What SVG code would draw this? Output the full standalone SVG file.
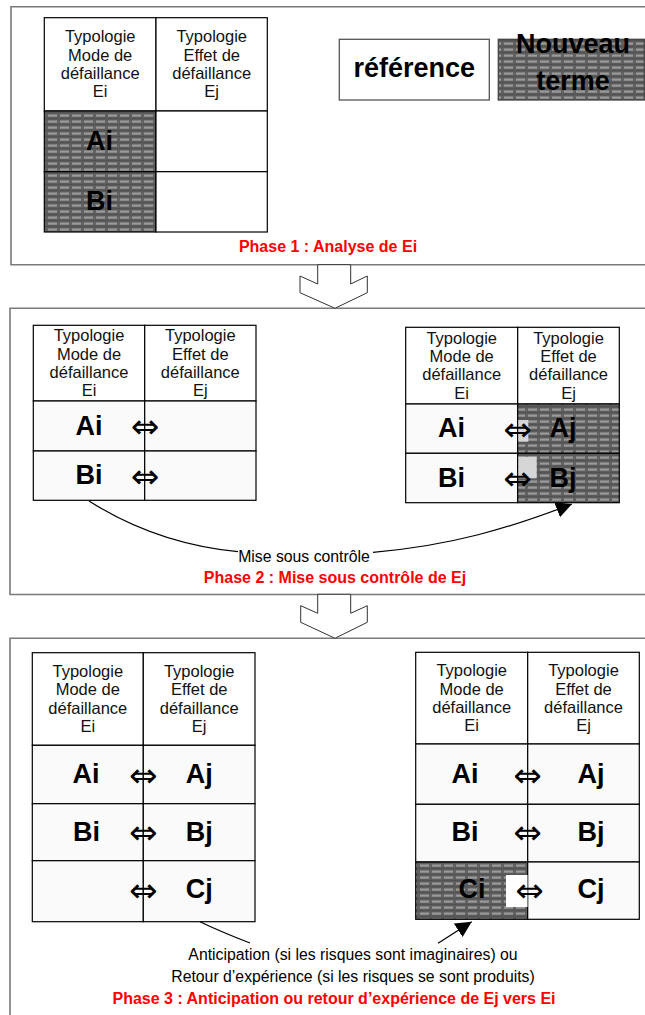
<svg xmlns="http://www.w3.org/2000/svg" width="645" height="1015" viewBox="0 0 645 1015">
<style>
.frame{fill:none;stroke:#7a7a7a;stroke-width:1.6}
.cell{stroke:#000;stroke-width:1.2}
.w{fill:#fff}
.o{fill:#fafafa}
.h{fill:url(#hatch)}
.hd{font-family:"Liberation Sans",Arial,sans-serif;font-size:16.5px;fill:#111;text-anchor:middle}
.big{font-family:"Liberation Sans",Arial,sans-serif;font-size:27px;font-weight:bold;fill:#000;text-anchor:middle}
.arr{font-family:"DejaVu Sans",sans-serif;font-size:34px;fill:#000;text-anchor:middle}
.red{font-family:"Liberation Sans",Arial,sans-serif;font-size:16px;font-weight:bold;fill:#ff0000;text-anchor:middle}
.txt{font-family:"Liberation Sans",Arial,sans-serif;font-size:15.8px;fill:#000;text-anchor:middle}
.blk{fill:#fff;stroke:#333;stroke-width:1}
.con{fill:none;stroke:#000;stroke-width:1.2}
</style>
<defs>
<pattern id="hatch" patternUnits="userSpaceOnUse" width="12" height="6">
<rect width="12" height="6" fill="#626262"/>
<rect x="0" y="0.5" width="9" height="2.2" fill="#9a9a9a"/>
<rect x="0" y="3.5" width="12" height="2" fill="#545454"/>
</pattern>
<marker id="ah" viewBox="0 0 10 10" refX="10" refY="5" markerWidth="16" markerHeight="16" markerUnits="userSpaceOnUse" orient="auto">
<path d="M0,0 L10,5 L0,10 z" fill="#000"/>
</marker>
</defs>

<g id="frame1"><path class="frame" d="M650,6.7 H11 V264.7 H650"/></g>
<g id="frame2"><path class="frame" d="M650,308.3 H10 V594.5 H650"/></g>
<g id="frame3"><path class="frame" d="M650,638.3 H10 V1020"/></g>

<g id="table1">
<rect class="cell w" x="44.3" y="17.7" width="111.7" height="93.3"/>
<rect class="cell w" x="156" y="17.7" width="111.3" height="93.3"/>
<rect class="cell h" x="44.3" y="111" width="111.7" height="60.7"/>
<rect class="cell w" x="156" y="111" width="111.3" height="60.7"/>
<rect class="cell h" x="44.3" y="171.7" width="111.7" height="60.3"/>
<rect class="cell w" x="156" y="171.7" width="111.3" height="60.3"/>
<text class="hd" x="100.2" y="42.3">Typologie<tspan x="100.2" dy="18.3">Mode de</tspan><tspan x="100.2" dy="18.3">défaillance</tspan><tspan x="100.2" dy="18.3">Ei</tspan></text>
<text class="hd" x="211.7" y="42.3">Typologie<tspan x="211.7" dy="18.3">Effet de</tspan><tspan x="211.7" dy="18.3">défaillance</tspan><tspan x="211.7" dy="18.3">Ej</tspan></text>
<text class="big" x="99.5" y="150">Ai</text>
<text class="big" x="99.5" y="209.5">Bi</text>
</g>

<g id="legend-reference">
<rect x="339.3" y="39.3" width="150" height="60.7" fill="#fff" stroke="#555" stroke-width="1.3"/>
<text class="big" x="414.3" y="77">référence</text>
</g>
<g id="legend-nouveau">
<rect x="498.3" y="39.3" width="146" height="60.7" fill="url(#hatch)" stroke="#444" stroke-width="1.3"/>
<text class="big" x="573" y="53">Nouveau</text>
<text class="big" x="573" y="90">terme</text>
</g>

<g id="label-phase1"><text class="red" x="328" y="252">Phase 1 : Analyse de Ei</text></g>

<g id="table2">
<rect class="cell w" x="33.3" y="325.3" width="111.4" height="75.7"/>
<rect class="cell w" x="144.7" y="325.3" width="111.3" height="75.7"/>
<rect class="cell o" x="33.3" y="401" width="111.4" height="50"/>
<rect class="cell o" x="144.7" y="401" width="111.3" height="50"/>
<rect class="cell o" x="33.3" y="451" width="111.4" height="49.3"/>
<rect class="cell o" x="144.7" y="451" width="111.3" height="49.3"/>
<text class="hd" x="89" y="341.2">Typologie<tspan x="89" dy="18.3">Mode de</tspan><tspan x="89" dy="18.3">défaillance</tspan><tspan x="89" dy="18.3">Ei</tspan></text>
<text class="hd" x="200.3" y="341.2">Typologie<tspan x="200.3" dy="18.3">Effet de</tspan><tspan x="200.3" dy="18.3">défaillance</tspan><tspan x="200.3" dy="18.3">Ej</tspan></text>
<text class="big" x="89" y="434.5">Ai</text>
<text class="big" x="89" y="484">Bi</text>
<text class="arr" x="145" y="438">⇔</text>
<text class="arr" x="145" y="487.5">⇔</text>
</g>

<g id="table3">
<rect class="cell w" x="405.7" y="327.3" width="112" height="76.7"/>
<rect class="cell w" x="517.7" y="327.3" width="101.6" height="76.7"/>
<rect class="cell o" x="405.7" y="404" width="112" height="49.3"/>
<rect class="cell h" x="517.7" y="404" width="101.6" height="49.3"/>
<rect class="cell o" x="405.7" y="453.3" width="112" height="49.4"/>
<rect class="cell h" x="517.7" y="453.3" width="101.6" height="49.4"/>
<rect x="518.3" y="420" width="10" height="21.7" fill="#d6d6d6"/>
<rect x="518.3" y="456.7" width="18.4" height="21.6" fill="#d6d6d6"/>
<text class="hd" x="461.7" y="343.7">Typologie<tspan x="461.7" dy="18.3">Mode de</tspan><tspan x="461.7" dy="18.3">défaillance</tspan><tspan x="461.7" dy="18.3">Ei</tspan></text>
<text class="hd" x="568.5" y="343.7">Typologie<tspan x="568.5" dy="18.3">Effet de</tspan><tspan x="568.5" dy="18.3">défaillance</tspan><tspan x="568.5" dy="18.3">Ej</tspan></text>
<text class="big" x="451.5" y="437.2">Ai</text>
<text class="big" x="451.5" y="486.5">Bi</text>
<text class="arr" x="517.5" y="440.5">⇔</text>
<text class="arr" x="517.5" y="490">⇔</text>
<text class="big" x="563" y="437.2">Aj</text>
<text class="big" x="563" y="486.5">Bj</text>
</g>

<g id="label-mise"><text class="txt" x="304" y="561.7">Mise sous contrôle</text></g>
<g id="label-phase2"><text class="red" x="335" y="583">Phase 2 : Mise sous contrôle de Ej</text></g>

<g id="table4">
<rect class="cell w" x="32.3" y="652.7" width="111" height="92.6"/>
<rect class="cell w" x="143.3" y="652.7" width="111.7" height="92.6"/>
<rect class="cell o" x="32.3" y="745.3" width="111" height="58.4"/>
<rect class="cell o" x="143.3" y="745.3" width="111.7" height="58.4"/>
<rect class="cell o" x="32.3" y="803.7" width="111" height="57"/>
<rect class="cell o" x="143.3" y="803.7" width="111.7" height="57"/>
<rect class="cell o" x="32.3" y="860.7" width="111" height="61"/>
<rect class="cell o" x="143.3" y="860.7" width="111.7" height="61"/>
<text class="hd" x="87.8" y="677">Typologie<tspan x="87.8" dy="18.3">Mode de</tspan><tspan x="87.8" dy="18.3">défaillance</tspan><tspan x="87.8" dy="18.3">Ei</tspan></text>
<text class="hd" x="199.2" y="677">Typologie<tspan x="199.2" dy="18.3">Effet de</tspan><tspan x="199.2" dy="18.3">défaillance</tspan><tspan x="199.2" dy="18.3">Ej</tspan></text>
<text class="big" x="86" y="783">Ai</text>
<text class="big" x="86.5" y="840.5">Bi</text>
<text class="big" x="199.2" y="783">Aj</text>
<text class="big" x="199.2" y="840.5">Bj</text>
<text class="big" x="199.2" y="898">Cj</text>
<text class="arr" x="143.3" y="786.5">⇔</text>
<text class="arr" x="143.3" y="844">⇔</text>
<text class="arr" x="143.3" y="901.5">⇔</text>
</g>

<g id="table5">
<rect class="cell w" x="415.7" y="652.3" width="112" height="91.7"/>
<rect class="cell w" x="527.7" y="652.3" width="111.6" height="91.7"/>
<rect class="cell o" x="415.7" y="744" width="112" height="60.3"/>
<rect class="cell o" x="527.7" y="744" width="111.6" height="60.3"/>
<rect class="cell o" x="415.7" y="804.3" width="112" height="57.7"/>
<rect class="cell o" x="527.7" y="804.3" width="111.6" height="57.7"/>
<rect class="cell h" x="415.7" y="862" width="112" height="57.3"/>
<rect class="cell o" x="527.7" y="862" width="111.6" height="57.3"/>
<rect x="506" y="875" width="21.5" height="32" fill="#fff"/>
<text class="hd" x="471.7" y="676.2">Typologie<tspan x="471.7" dy="18.3">Mode de</tspan><tspan x="471.7" dy="18.3">défaillance</tspan><tspan x="471.7" dy="18.3">Ei</tspan></text>
<text class="hd" x="583.5" y="676.2">Typologie<tspan x="583.5" dy="18.3">Effet de</tspan><tspan x="583.5" dy="18.3">défaillance</tspan><tspan x="583.5" dy="18.3">Ej</tspan></text>
<text class="big" x="465" y="783">Ai</text>
<text class="big" x="465" y="840.5">Bi</text>
<text class="big" x="472" y="898">Ci</text>
<text class="big" x="591" y="783">Aj</text>
<text class="big" x="591" y="840.5">Bj</text>
<text class="big" x="591" y="898">Cj</text>
<text class="arr" x="527.5" y="786.5">⇔</text>
<text class="arr" x="527.5" y="844">⇔</text>
<text class="arr" x="529.5" y="901.5">⇔</text>
</g>

<g id="label-anticipation">
<text class="txt" x="353" y="960">Anticipation (si les risques sont imaginaires) ou</text>
<text class="txt" x="353" y="981.5">Retour d’expérience (si les risques se sont produits)</text>
</g>
<g id="label-phase3"><text class="red" x="334" y="1004">Phase 3 : Anticipation ou retour d’expérience de Ej vers Ei</text></g>

<g id="connectors">
<path class="blk" d="M317.7,264.7 V284 L300,276 V292.7 L335,308.3 L367.3,292.7 V276 L350.7,284 V264.7 Z"/>
<path class="blk" d="M317.7,594.3 V613.3 L300.7,605.7 V622.3 L335,638.3 L367.3,622.3 V605.7 L350.7,613.3 V594.3 Z"/>
<path class="con" d="M89,501 C130,527 180,546 238,551.7"/>
<path class="con" d="M373,552.3 C450,546 510,528 572,504" marker-end="url(#ah)"/>
<path class="con" d="M200,921.7 C215,929 232,936 250,943"/>
<path class="con" d="M438,943.3 L471.7,921.7" marker-end="url(#ah)"/>
</g>
</svg>
